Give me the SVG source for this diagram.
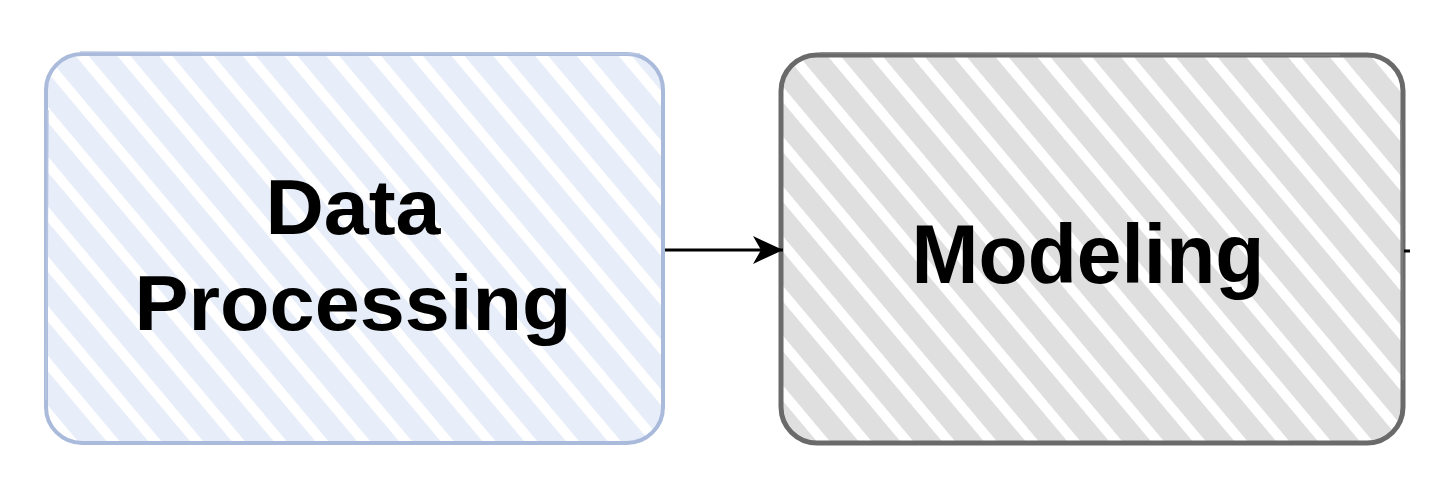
<svg xmlns="http://www.w3.org/2000/svg" width="1448" height="490" viewBox="0 0 1448 490">
<style>
.lbl{font-family:"Liberation Sans",Arial,Helvetica,sans-serif;font-weight:bold;fill:#000;text-anchor:middle}
.edge{stroke:#000;stroke-width:3;fill:none}
</style>
<defs>
<pattern id="hb" patternUnits="userSpaceOnUse" width="32" height="32" patternTransform="rotate(-40)">
<rect width="32" height="32" fill="#ffffff"/>
<rect x="0" y="0" width="22" height="32" fill="#e7edf9"/>
</pattern>
<pattern id="hg" patternUnits="userSpaceOnUse" width="32" height="32" patternTransform="rotate(-40)">
<rect width="32" height="32" fill="#ffffff"/>
<rect x="0" y="0" width="22" height="32" fill="#dfdfdf"/>
</pattern>
<marker id="arr" markerWidth="30" markerHeight="28" refX="30" refY="14" orient="auto" markerUnits="userSpaceOnUse" viewBox="0 0 30 28">
<path d="M0,0 L30,14 L0,28 L8,14 Z" fill="#000"/>
</marker>
</defs>
<rect width="1448" height="490" fill="#ffffff"/>
<g id="node-data-processing">
<rect x="46" y="54" width="617" height="389" rx="36" ry="36" fill="url(#hb)" stroke="#a9badb" stroke-width="4"/>
<path d="M80,52 L640,54 M48,110 L46,400" stroke="#b8c7e4" stroke-width="2" fill="none" opacity="0.7"/>
<text class="lbl" x="353" y="234" font-size="77" textLength="175" lengthAdjust="spacingAndGlyphs">Data</text>
<text class="lbl" x="353" y="330" font-size="77" textLength="437" lengthAdjust="spacingAndGlyphs">Processing</text>
</g>
<g id="node-modeling">
<rect x="781" y="55" width="622" height="388" rx="36" ry="36" fill="url(#hg)" stroke="#6a6a6a" stroke-width="5"/>
<path d="M820,53 L1340,55 M1401,120 L1403,380" stroke="#808080" stroke-width="2" fill="none" opacity="0.7"/>
<text class="lbl" x="1088" y="283" font-size="83" textLength="353" lengthAdjust="spacingAndGlyphs">Modeling</text>
</g>
<g id="connectors">
<line class="edge" x1="665" y1="250" x2="783" y2="250" marker-end="url(#arr)"/>
<line class="edge" x1="1404" y1="251" x2="1410" y2="251"/>
</g>
</svg>
